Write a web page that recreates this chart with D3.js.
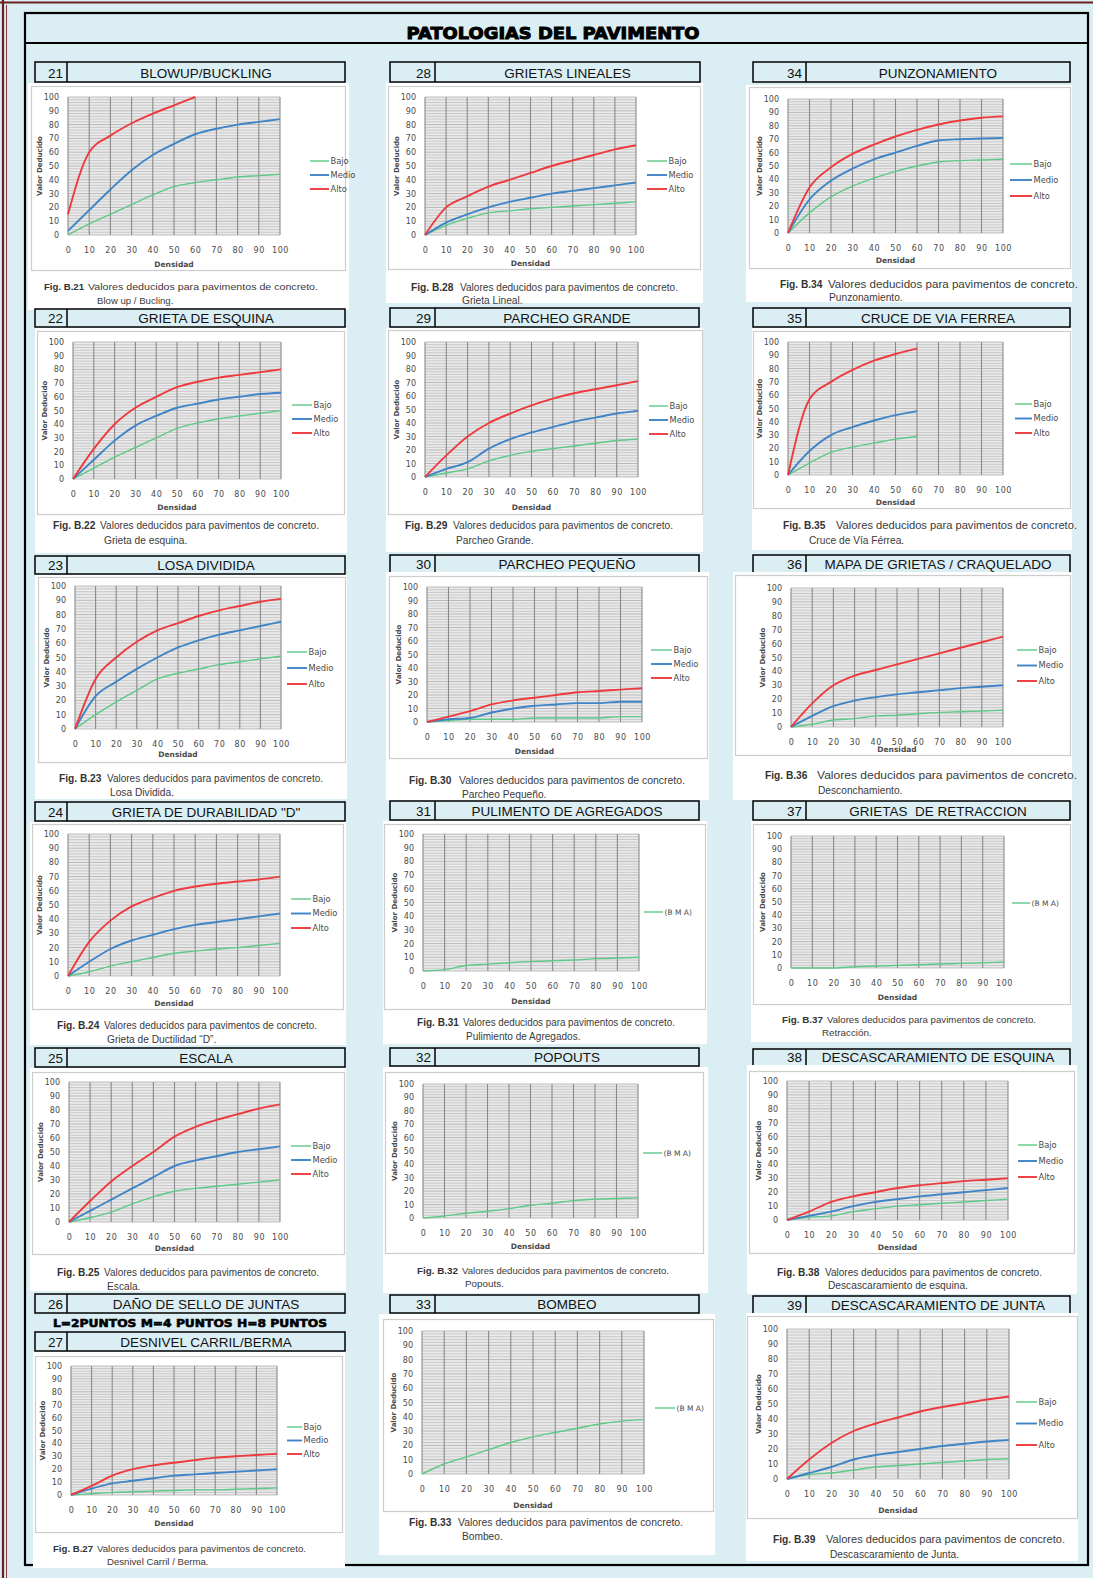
<!DOCTYPE html>
<html><head><meta charset="utf-8">
<script src="https://cdn.jsdelivr.net/npm/d3@7"></script>
<style>body{margin:0;background:#dbeef4}svg{display:block}</style>
</head><body><svg id="c" width="1093" height="1578"></svg>
<script>
// ---------- DATA ----------
const densidad = [0,10,20,30,40,50,60,70,80,90,100];
const densidad60 = [0,10,20,30,40,50,60];
const axisTicks = [0,10,20,30,40,50,60,70,80,90,100];

const blowupBajo  = [0,8,15,22,29,35,38,40,42,43,44];
const blowupMedio = [3,18,33,47,58,66,73,77,80,82,84];
const blowupAlto  = [15,60,72,81,88,94,100];

const esquinaBajo  = [0,8,16,23,30,37,41,44,46,48,50];
const esquinaMedio = [0,14,28,39,46,52,55,58,60,62,63];
const esquinaAlto  = [0,22,40,52,60,67,71,74,76,78,80];

const losaBajo  = [0,10,19,27,35,39,42,45,47,49,51];
const losaMedio = [0,23,33,42,50,57,62,66,69,72,75];
const losaAlto  = [0,35,50,61,69,74,79,83,86,89,91];

const durabBajo  = [0,3,7,10,13,16,17.5,19,20,21.5,23];
const durabMedio = [0,10,19,25,29,33,36,38,40,42,44];
const durabAlto  = [0,24,39,49,55,60,63,65,66.5,68,70];

const escalaBajo  = [0,3,7,13,18,22,24,25.5,27,28.5,30];
const escalaMedio = [0,8,16,24,32,40,44,47,50,52,54];
const escalaAlto  = [0,15,29,40,50,61,68,73,77,81,84];

const desnivelBajo  = [0,1,2,2.5,3,3.5,4,4,4.5,5,5.5];
const desnivelMedio = [0,5,9,11,13,15,16,17,18,19,20];
const desnivelAlto  = [0,7,15,20,23,25,27,29,30,31,32];

const linealBajo  = [0,7,12,16,17.5,19,20,21,22,23,24];
const linealMedio = [0,9,15,20,24,27,30,32,34,36,38];
const linealAlto  = [0,20,28,35,40,45,50,54,58,62,65];

const grandeBajo  = [0,3,6,12,16,19,21,23,25,27,28];
const grandeMedio = [0,6,11,21,28,33,37,41,44,47,49];
const grandeAlto  = [0,16,30,40,47,53,58,62,65,68,71];

const pequenoBajo  = [0,1,2,2,2,3,3,3,3,4,4];
const pequenoMedio = [0,2,3,7,10,12,13,14,14,15,15];
const pequenoAlto  = [0,4,8,13,16,18,20,22,23,24,25];

const pulimentoBMA  = [0,1,4,5,6,7,7.5,8,9,9.5,10];
const popoutsBMA    = [0,1.5,3.5,5,7,9.5,11,13,14,14.5,15];
const bombeoBMA     = [0,7,12,17,22,26,29,32,35,37,38];
const retraccionBMA = [0,0,0,1,1.5,2,2.5,3,3.5,4,4.5];

const punzBajo  = [0,15,27,35,41,46,50,53,54,54.5,55];
const punzMedio = [0,25,39,48,55,60,65,69,70,70.5,71];
const punzAlto  = [0,34,49,59,66,72,77,81,84,86,87];

const ferreaBajo  = [0,9,17,21,24,27,29];
const ferreaMedio = [0,18,30,36,41,45,48];
const ferreaAlto  = [0,57,70,79,86,91,95];

const mapaBajo  = [0,2,5,6,8,8.5,9.5,10.5,11,11.5,12];
const mapaMedio = [0,8,15,19,21.5,23.5,25,26.5,28,29,30];
const mapaAlto  = [0,17,30,37,41,45,49,53,57,61,65];

const descEsqBajo  = [0,2,3,6,8,10,11,12,13,14,15];
const descEsqMedio = [0,3,6,10,13,15,17,18.5,20,21.5,23];
const descEsqAlto  = [0,6,13,17,20,23,25,26.5,28,29,30];

const descJuntaBajo  = [0,3,4,6,8,9,10,11,12,13,13.5];
const descJuntaMedio = [0,4,8,13,16,18,20,22,23.5,25,26];
const descJuntaAlto  = [0,13,24,32,37,41,45,48,50.5,53,55];

const panelNumbers = [21,22,23,24,25,26,27,28,29,30,31,32,33,34,35,36,37,38,39];
const panelTitles = ["BLOWUP/BUCKLING","GRIETA DE ESQUINA","LOSA DIVIDIDA","GRIETA DE DURABILIDAD \"D\"","ESCALA",
  "DAÑO DE SELLO DE JUNTAS","DESNIVEL CARRIL/BERMA","GRIETAS LINEALES","PARCHEO GRANDE","PARCHEO PEQUEÑO",
  "PULIMENTO DE AGREGADOS","POPOUTS","BOMBEO","PUNZONAMIENTO","CRUCE DE VIA FERREA","MAPA DE GRIETAS / CRAQUELADO",
  "GRIETAS  DE RETRACCION","DESCASCARAMIENTO DE ESQUINA","DESCASCARAMIENTO DE JUNTA"];
const captionMain = "Valores deducidos para pavimentos de concreto.";
const captionSub = {21:"Blow up / Bucling.",22:"Grieta de esquina.",23:"Losa Dividida.",24:"Grieta de Ductilidad “D”.",
  25:"Escala.",27:"Desnivel Carril / Berma.",28:"Grieta Lineal.",29:"Parcheo Grande.",30:"Parcheo Pequeño.",
  31:"Pulimiento de Agregados.",32:"Popouts.",33:"Bombeo.",34:"Punzonamiento.",35:"Cruce de Vía Férrea.",
  36:"Desconchamiento.",37:"Retracción.",38:"Descascaramiento de esquina.",39:"Descascaramiento de Junta."};
const sellosNote = "L=2PUNTOS  M=4 PUNTOS H=8 PUNTOS";
const mainTitle = "PATOLOGIAS DEL PAVIMENTO";
const levelNames = ["Bajo","Medio","Alto"];
const bmaName = "(B M A)";

const chartSeries = {
  21:[[densidad,blowupBajo],[densidad,blowupMedio],[densidad60,blowupAlto]],
  22:[[densidad,esquinaBajo],[densidad,esquinaMedio],[densidad,esquinaAlto]],
  23:[[densidad,losaBajo],[densidad,losaMedio],[densidad,losaAlto]],
  24:[[densidad,durabBajo],[densidad,durabMedio],[densidad,durabAlto]],
  25:[[densidad,escalaBajo],[densidad,escalaMedio],[densidad,escalaAlto]],
  27:[[densidad,desnivelBajo],[densidad,desnivelMedio],[densidad,desnivelAlto]],
  28:[[densidad,linealBajo],[densidad,linealMedio],[densidad,linealAlto]],
  29:[[densidad,grandeBajo],[densidad,grandeMedio],[densidad,grandeAlto]],
  30:[[densidad,pequenoBajo],[densidad,pequenoMedio],[densidad,pequenoAlto]],
  31:[[densidad,pulimentoBMA]],
  32:[[densidad,popoutsBMA]],
  33:[[densidad,bombeoBMA]],
  34:[[densidad,punzBajo],[densidad,punzMedio],[densidad,punzAlto]],
  35:[[densidad60,ferreaBajo],[densidad60,ferreaMedio],[densidad60,ferreaAlto]],
  36:[[densidad,mapaBajo],[densidad,mapaMedio],[densidad,mapaAlto]],
  37:[[densidad,retraccionBMA]],
  38:[[densidad,descEsqBajo],[densidad,descEsqMedio],[densidad,descEsqAlto]],
  39:[[densidad,descJuntaBajo],[densidad,descJuntaMedio],[densidad,descJuntaAlto]]
};

// ---------- LAYOUT (positions only) ----------
const headerBox = {21:[35,62,345,82,67],22:[35,309,345,327,67],23:[35,556,345,574,67],24:[35,802,345,821,67],
  25:[35,1048,345,1067,67],26:[35,1294,345,1313,67],27:[35,1332,345,1351,67],
  28:[390,62,700,82,435],29:[390,308,699,327,435],30:[390,555,699,573,435],31:[390,801,699,820,435],
  32:[390,1048,699,1066,435],33:[390,1295,699,1313,435],
  34:[753,62,1070,82,806],35:[753,308,1070,327,806],36:[753,555,1070,573,806],37:[753,801,1070,820,806],
  38:[753,1049,1070,1066,806],39:[753,1296,1070,1314,806]};
const whiteBox = {21:[28,83,349,310],22:[35,328,347,553],23:[35,575,347,799],24:[30,822,346,1045],25:[30,1068,346,1291],
  27:[33,1352,345,1568],28:[386,83,703,303],29:[386,328,703,552],30:[386,572,709,800],31:[383,821,707,1044],
  32:[383,1067,708,1293],33:[379,1314,715,1555],34:[746,85,1072,302],35:[752,328,1072,550],36:[733,572,1072,800],
  37:[751,821,1072,1042],38:[747,1065,1077,1294],39:[746,1313,1078,1561]};
const grayBox = {21:[31,86,345,270],22:[37,331,344,514],23:[38,577,345,762],24:[32,824,343,1009],25:[32,1072,344,1254],
  27:[35,1356,342,1532],28:[388,86,700,269],29:[388,330,702,514],30:[389,576,707,758],31:[384,824,705,1009],
  32:[385,1072,703,1253],33:[383,1319,713,1511],34:[749,87,1070,268],35:[753,331,1070,508],36:[735,575,1070,755],
  37:[753,824,1070,1004],38:[749,1071,1074,1253],39:[747,1316,1077,1518]};
const plotBox = {21:[68,280,97,235],22:[73,281,342,479],23:[75,281,586,729],24:[68,280,834,976],25:[69,280,1082,1222],
  27:[71,277,1366,1495],28:[425,636,97,235],29:[425,638,342,477],30:[427,642,587,722],31:[423,639,834,971],
  32:[423,638,1084,1218],33:[422,644,1331,1474],34:[788,1003,99,233],35:[788,1003,342,475],36:[791,1003,588,727],
  37:[791,1004,836,968],38:[787,1008,1081,1220],39:[787,1009,1329,1479]};
const densOffset = {21:29,22:28,23:25,24:27,25:26,27:28,28:28,29:30,30:29,31:30,32:28,33:31,34:27,35:27,36:22,37:29,38:27,39:31};
const legendBox = {21:[310,329,161,14],22:[292,312,405,14],23:[287,307,652,16],24:[291,311,899,14.5],25:[291,311,1146,14],
  27:[287,302,1427,13.5],28:[647,667,161,14],29:[649,668,406,14],30:[651,672,650,14],31:[644,663,912,0],
  32:[643,662,1153,0],33:[655,675,1408,0],34:[1010,1032,164,16],35:[1015,1032,404,14.5],36:[1017,1037,650,15.5],
  37:[1012,1030,903,0],38:[1018,1037,1145,16],39:[1016,1037,1402,21.5]};
// [figX, regX, regW, y1, line2X, y2]
const captionBox = {21:[44,88,230,287,97,301],22:[53,100,219,525,104,540],23:[59,107,216,778,110,792],
  24:[57,104,213,1025,107,1039],25:[57,104,215,1272,107,1286],27:[53,97,209,1549,107,1562],
  28:[411,460,218,287,462,300],29:[405,453,220,525,456,540],30:[409,459,226,780,462,794],
  31:[417,463,212,1022,466,1036],32:[417,462,207,1271,465,1284],33:[409,458,225,1522,462,1536],
  34:[780,828,250,284,829,297],35:[783,836,241,525,809,540],36:[765,817,260,775,818,790],
  37:[782,827,209,1020,822,1033],38:[777,825,217,1272,828,1285],39:[773,826,239,1539,830,1554]};

const colors = ["#5cc987","#3f84c6","#ee3a3e"];
const widths = [1.4,1.9,1.9];

// ---------- DRAW ----------
const svg = d3.select('#c');
svg.append('rect').attr('width',1093).attr('height',1578).attr('fill','#dbeef4');
svg.append('line').attr('x1',3).attr('x2',3).attr('y1',0).attr('y2',1578).attr('stroke','#6e2020').attr('stroke-width',2.2);
svg.append('line').attr('x1',6.5).attr('x2',6.5).attr('y1',5).attr('y2',1578).attr('stroke','#8a3a3a').attr('stroke-width',1);
svg.append('line').attr('x1',0).attr('x2',1093).attr('y1',2.5).attr('y2',2.5).attr('stroke','#6e2020').attr('stroke-width',2.2);
svg.append('rect').attr('x',25).attr('y',13).attr('width',1063).attr('height',1552)
  .attr('fill','none').attr('stroke','#000').attr('stroke-width',2.2);
svg.append('line').attr('x1',25).attr('x2',1088).attr('y1',43).attr('y2',43).attr('stroke','#000').attr('stroke-width',2.2);
svg.append('text').attr('x',553).attr('y',39).attr('text-anchor','middle')
  .attr('font-family','DejaVu Sans').attr('font-weight','bold').attr('font-size',16.5)
  .attr('textLength',293).attr('lengthAdjust','spacingAndGlyphs')
  .attr('stroke','#000').attr('stroke-width',1).attr('fill','#000').text(mainTitle);

function drawHeader(num, title) {
  const [x0,y0,x1,y1,dv] = headerBox[num];
  svg.append('rect').attr('x',x0).attr('y',y0).attr('width',x1-x0).attr('height',y1-y0)
    .attr('fill','#dbeef4').attr('stroke','#000').attr('stroke-width',1.5);
  svg.append('line').attr('x1',dv).attr('x2',dv).attr('y1',y0).attr('y2',y1).attr('stroke','#000').attr('stroke-width',1.5);
  const fs = 13.5;
  svg.append('text').attr('x',dv-4).attr('y',y1-4.5).attr('text-anchor','end')
    .attr('font-family','Liberation Sans, Arial').attr('font-size',fs).attr('fill','#111').text(num);
  svg.append('text').attr('x',(dv+x1)/2).attr('y',y1-4.5).attr('text-anchor','middle').attr('xml:space','preserve')
    .attr('font-family','Liberation Sans, Arial').attr('font-size',fs).attr('fill','#111').text(title);
}

function drawChart(num) {
  const W = whiteBox[num], G = grayBox[num], P = plotBox[num];
  svg.append('rect').attr('x',W[0]).attr('y',W[1]).attr('width',W[2]-W[0]).attr('height',W[3]-W[1]).attr('fill','#fff');
  svg.append('rect').attr('x',G[0]+0.5).attr('y',G[1]+0.5).attr('width',G[2]-G[0]).attr('height',G[3]-G[1])
    .attr('fill','#fff').attr('stroke','#cdcdcd').attr('stroke-width',1.2);
  const x = d3.scaleLinear().domain([0,100]).range([P[0],P[1]]);
  const y = d3.scaleLinear().domain([0,100]).range([P[3],P[2]]);
  const g = svg.append('g');
  g.append('rect').attr('x',x(0)).attr('y',y(100)).attr('width',x(100)-x(0)).attr('height',y(0)-y(100)).attr('fill','#eaeaea');
  g.selectAll('line.h').data(d3.range(0,101,2)).join('line')
    .attr('x1',x(0)).attr('x2',x(100)).attr('y1',d=>y(d)).attr('y2',d=>y(d))
    .attr('stroke',d=>d%10===0?'#a5a5a5':'#bababa').attr('stroke-width',0.7);
  g.selectAll('line.v').data(axisTicks).join('line')
    .attr('x1',d=>x(d)).attr('x2',d=>x(d)).attr('y1',y(100)).attr('y2',y(0))
    .attr('stroke','#8a8a8a').attr('stroke-width',1.1);
  // axes
  const ay = g.append('g').attr('transform',`translate(${x(0)},0)`)
    .call(d3.axisLeft(y).tickValues(axisTicks).tickSize(0).tickPadding(9));
  ay.select('.domain').remove();
  ay.selectAll('text').attr('font-family','DejaVu Sans').attr('font-size',8).attr('fill','#4a4a4a');
  const ax = g.append('g').attr('transform',`translate(0,${y(0)})`)
    .call(d3.axisBottom(x).tickValues(axisTicks).tickSize(0));
  ax.select('.domain').remove();
  ax.selectAll('text').attr('y',15).attr('dy','0.35em').attr('font-family','DejaVu Sans').attr('font-size',8)
    .attr('letter-spacing',0.6).attr('fill','#4a4a4a');
  g.append('text').attr('x',(x(0)+x(100))/2).attr('y',y(0)+densOffset[num]).attr('dy','0.35em').attr('text-anchor','middle')
    .attr('font-family','DejaVu Sans').attr('font-weight','bold').attr('font-size',7.5).attr('fill','#4a4a4a').text('Densidad');
  g.append('text').attr('transform',`translate(${x(0)-28},${(y(0)+y(100))/2}) rotate(-90)`).attr('dy','0.35em')
    .attr('text-anchor','middle').attr('font-family','DejaVu Sans').attr('font-weight','bold').attr('font-size',7)
    .attr('fill','#4a4a4a').text('Valor Deducido');
  // series
  const S = chartSeries[num];
  const single = S.length === 1;
  const line = d3.line().x(d=>x(d[0])).y(d=>y(d[1])).curve(d3.curveMonotoneX);
  S.forEach((s,i) => {
    const pts = s[0].map((dx,k)=>[dx,s[1][k]]);
    g.append('path').attr('d',line(pts)).attr('fill','none')
      .attr('stroke',colors[i]).attr('stroke-width',widths[i]).attr('stroke-linejoin','round');
  });
  // legend
  const L = legendBox[num];
  S.forEach((s,i) => {
    const ly = L[2] + i*L[3];
    g.append('line').attr('x1',L[0]).attr('x2',L[1]).attr('y1',ly).attr('y2',ly)
      .attr('stroke',colors[i]).attr('stroke-width',widths[i]);
    g.append('text').attr('x',L[1]+1.5).attr('y',ly).attr('dy','0.35em')
      .attr('font-family','DejaVu Sans').attr('font-size',single?7.5:8.3).attr('fill','#4a4a4a')
      .text(single ? bmaName : levelNames[i]);
  });
  // caption
  const C = captionBox[num];
  const fs = Math.min(10.2, (C[1]-C[0]-2)/4.37);
  g.append('text').attr('x',C[0]).attr('y',C[3]).attr('dy','0.35em').attr('font-family','Liberation Sans, Arial')
    .attr('font-weight','bold').attr('font-size',fs).attr('fill','#333').text('Fig. B.' + num);
  g.append('text').attr('x',C[1]).attr('y',C[3]).attr('dy','0.35em').attr('font-family','Liberation Sans, Arial')
    .attr('font-size',fs).attr('fill','#3a3a3a').attr('textLength',C[2]).attr('lengthAdjust','spacingAndGlyphs').text(captionMain);
  g.append('text').attr('x',C[4]).attr('y',C[5]).attr('dy','0.35em').attr('font-family','Liberation Sans, Arial')
    .attr('font-size',fs).attr('fill','#3a3a3a').text(captionSub[num]);
}

panelNumbers.forEach((num,i) => {
  drawHeader(num, panelTitles[i]);
  if (chartSeries[num]) drawChart(num);
});

svg.append('text').attr('x',190).attr('y',1323).attr('dy','0.35em').attr('text-anchor','middle')
  .attr('font-family','DejaVu Sans').attr('font-weight','bold').attr('font-size',11)
  .attr('textLength',274).attr('lengthAdjust','spacingAndGlyphs')
  .attr('stroke','#000').attr('stroke-width',0.6).attr('fill','#000').text(sellosNote);
</script></body></html>
